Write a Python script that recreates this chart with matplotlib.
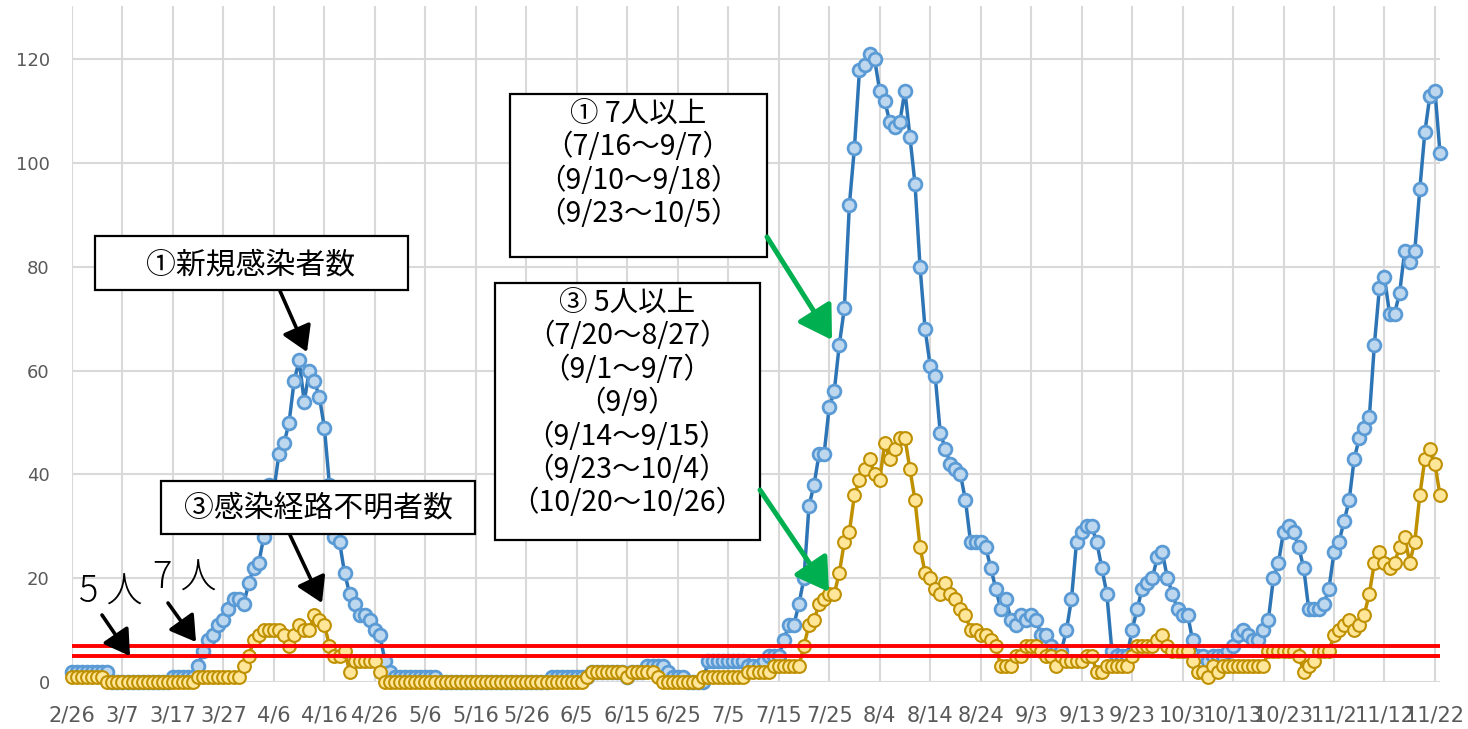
import numpy as np
import matplotlib
matplotlib.use("Agg")
import matplotlib.pyplot as plt
from matplotlib.patches import Rectangle, FancyArrowPatch

W, H = 1468, 729

# x axis labels (one every 10 days, 2/26 .. 11/22)
tick_labels = ['2/26', '3/7', '3/17', '3/27', '4/6', '4/16', '4/26', '5/6', '5/16',
               '5/26', '6/5', '6/15', '6/25', '7/5', '7/15', '7/25', '8/4', '8/14',
               '8/24', '9/3', '9/13', '9/23', '10/3', '10/13', '10/23', '11/2',
               '11/12', '11/22']

# ①新規感染者数 (daily, 2/26 - 11/23)
shinki = [
    2, 2, 2, 2, 2, 2, 2, 2, 0, 0,
    0, 0, 0, 0, 0, 0, 0, 0, 0, 0,
    1, 1, 1, 1, 1, 3, 6, 8, 9, 11,
    12, 14, 16, 16, 15, 19, 22, 23, 28, 38,
    37, 44, 46, 50, 58, 62, 54, 60, 58, 55,
    49, 38, 28, 27, 21, 17, 15, 13, 13, 12,
    10, 9, 4, 2, 1, 1, 1, 1, 1, 1,
    1, 1, 1, 0, 0, 0, 0, 0, 0, 0,
    0, 0, 0, 0, 0, 0, 0, 0, 0, 0,
    0, 0, 0, 0, 0, 1, 1, 1, 1, 1,
    1, 1, 1, 2, 2, 2, 2, 2, 2, 2,
    1, 2, 2, 2, 3, 3, 3, 3, 2, 1,
    1, 1, 0, 0, 0, 0, 4, 4, 4, 4,
    4, 4, 4, 4, 3, 3, 3, 4, 5, 5,
    5, 8, 11, 11, 15, 20, 34, 38, 44, 44,
    53, 56, 65, 72, 92, 103, 118, 119, 121, 120,
    114, 112, 108, 107, 108, 114, 105, 96, 80, 68,
    61, 59, 48, 45, 42, 41, 40, 35, 27, 27,
    27, 26, 22, 18, 14, 16, 12, 11, 13, 12,
    13, 12, 9, 9, 7, 6, 6, 10, 16, 27,
    29, 30, 30, 27, 22, 17, 6, 5, 5, 5,
    10, 14, 18, 19, 20, 24, 25, 20, 17, 14,
    13, 13, 8, 5, 5, 4, 5, 5, 5, 6,
    7, 9, 10, 9, 8, 8, 10, 12, 20, 23,
    29, 30, 29, 26, 22, 14, 14, 14, 15, 18,
    25, 27, 31, 35, 43, 47, 49, 51, 65, 76,
    78, 71, 71, 75, 83, 81, 83, 95, 106, 113,
    114, 102]

# ③感染経路不明者数
fumei = [
    1, 1, 1, 1, 1, 1, 1, 0, 0, 0,
    0, 0, 0, 0, 0, 0, 0, 0, 0, 0,
    0, 0, 0, 0, 0, 1, 1, 1, 1, 1,
    1, 1, 1, 1, 3, 5, 8, 9, 10, 10,
    10, 10, 9, 7, 9, 11, 10, 10, 13, 12,
    11, 7, 5, 5, 6, 2, 4, 4, 4, 4,
    4, 2, 0, 0, 0, 0, 0, 0, 0, 0,
    0, 0, 0, 0, 0, 0, 0, 0, 0, 0,
    0, 0, 0, 0, 0, 0, 0, 0, 0, 0,
    0, 0, 0, 0, 0, 0, 0, 0, 0, 0,
    0, 0, 1, 2, 2, 2, 2, 2, 2, 2,
    1, 2, 2, 2, 2, 2, 1, 0, 0, 0,
    0, 0, 0, 0, 0, 1, 1, 1, 1, 1,
    1, 1, 1, 1, 2, 2, 2, 2, 2, 3,
    3, 3, 3, 3, 3, 7, 11, 12, 15, 16,
    17, 17, 21, 27, 29, 36, 39, 41, 43, 40,
    39, 46, 43, 45, 47, 47, 41, 35, 26, 21,
    20, 18, 17, 19, 17, 16, 14, 13, 10, 10,
    9, 9, 8, 7, 3, 3, 3, 5, 5, 7,
    7, 7, 6, 5, 5, 3, 5, 4, 4, 4,
    4, 5, 5, 2, 2, 3, 3, 3, 3, 3,
    5, 7, 7, 7, 7, 8, 9, 7, 6, 6,
    6, 6, 4, 2, 2, 1, 3, 2, 3, 3,
    3, 3, 3, 3, 3, 3, 3, 6, 6, 6,
    6, 6, 6, 5, 2, 3, 4, 6, 6, 6,
    9, 10, 11, 12, 10, 11, 13, 17, 23, 25,
    23, 22, 23, 26, 28, 23, 27, 36, 43, 45,
    42, 36]

thresholds = [5, 7]

box_c_lines = ['① 7人以上', '（7/16～9/7）', '（9/10～9/18）', '（9/23～10/5）']
box_d_lines = ['③ 5人以上', '（7/20～8/27）', '（9/1～9/7）', '（9/9）',
               '（9/14～9/15）', '（9/23～10/4）', '（10/20～10/26）']

JP = ['Noto Sans CJK JP', 'DejaVu Sans']

fig = plt.figure(figsize=(W / 100, H / 100), dpi=100)
ax = fig.add_axes([72 / W, 1 - 682 / H, (1440 - 72) / W, (682 - 6) / H])

x = np.arange(len(shinki))
ax.plot(x, shinki, color='#2e75b6', lw=2.5, marker='o', ms=9.2,
        mfc='#bdd7ee', mec='#5b9bd5', mew=2.0, clip_on=False, zorder=3)
ax.plot(x, fumei, color='#bf9000', lw=2.5, marker='o', ms=9.2,
        mfc='#ffe699', mec='#bf9000', mew=1.5, clip_on=False, zorder=4)
for t in thresholds:
    ax.axhline(t, color='#ff0000', lw=2.8, zorder=5)

ax.set_xlim(0, len(shinki) - 1)
ax.set_ylim(0, 130.3)
ax.set_xticks(np.arange(0, 10 * len(tick_labels), 10))
ax.set_xticklabels(tick_labels, family=['Liberation Sans Narrow', 'DejaVu Sans'],
                   fontsize=15)
ax.set_yticks(np.arange(0, 121, 20))
ax.tick_params(length=0, colors='#595959')
ax.tick_params(axis='x', pad=17)
ax.tick_params(axis='y', pad=16, labelsize=13)
ax.grid(True, color='#d9d9d9', lw=1.5)
ax.set_axisbelow(True)
for s in ax.spines.values():
    s.set_visible(False)


def fx(px):
    return px / W


def fy(py):
    return 1 - py / H


def box(x0, y0, x1, y1):
    fig.add_artist(Rectangle((fx(x0), fy(y1)), fx(x1) - fx(x0), fy(y0) - fy(y1),
                             transform=fig.transFigure, facecolor='white',
                             edgecolor='black', lw=1.6, zorder=10))


def arrow(p0, p1, color, lw, scale):
    fig.add_artist(FancyArrowPatch((fx(p0[0]), fy(p0[1])), (fx(p1[0]), fy(p1[1])),
                                   transform=fig.transFigure, color=color, lw=lw,
                                   arrowstyle='-|>,head_length=0.9,head_width=0.55',
                                   mutation_scale=scale, shrinkA=0, shrinkB=0,
                                   zorder=11))


# label boxes
box(95, 236, 408, 290)
fig.text(fx(251), fy(265), '①新規感染者数', family=JP, fontsize=21.5,
         ha='center', va='center', zorder=12)
box(161, 481, 475, 534)
fig.text(fx(318), fy(509), '③感染経路不明者数', family=JP, fontsize=21.5,
         ha='center', va='center', zorder=12)

box(510, 94, 767, 257)
for i, s in enumerate(box_c_lines):
    fig.text(fx(638), fy(114 + 33.3 * i), s, family=JP, fontsize=20.5,
             ha='center', va='center', zorder=12)
box(495, 283, 760, 540)
for i, s in enumerate(box_d_lines):
    fig.text(fx(627), fy(303 + 33.4 * i), s, family=JP, fontsize=20.5,
             ha='center', va='center', zorder=12)

# threshold labels
fig.text(fx(79), fy(592), '5 人', family=JP, fontsize=26, fontweight='light',
         ha='left', va='center', zorder=12)
fig.text(fx(153), fy(578), '7 人', family=JP, fontsize=26, fontweight='light',
         ha='left', va='center', zorder=12)

arrow((280, 291), (307, 352), 'black', 2.6, 17)
arrow((290, 535), (322, 603), 'black', 2.6, 17)
arrow((102, 615), (130, 656), 'black', 2.6, 17)
arrow((168, 603), (196, 642), 'black', 2.6, 17)
arrow((767, 237), (832, 340), '#00b050', 3.6, 22)
arrow((760, 490), (829, 592), '#00b050', 3.6, 22)

fig.savefig('out.png', dpi=100)
